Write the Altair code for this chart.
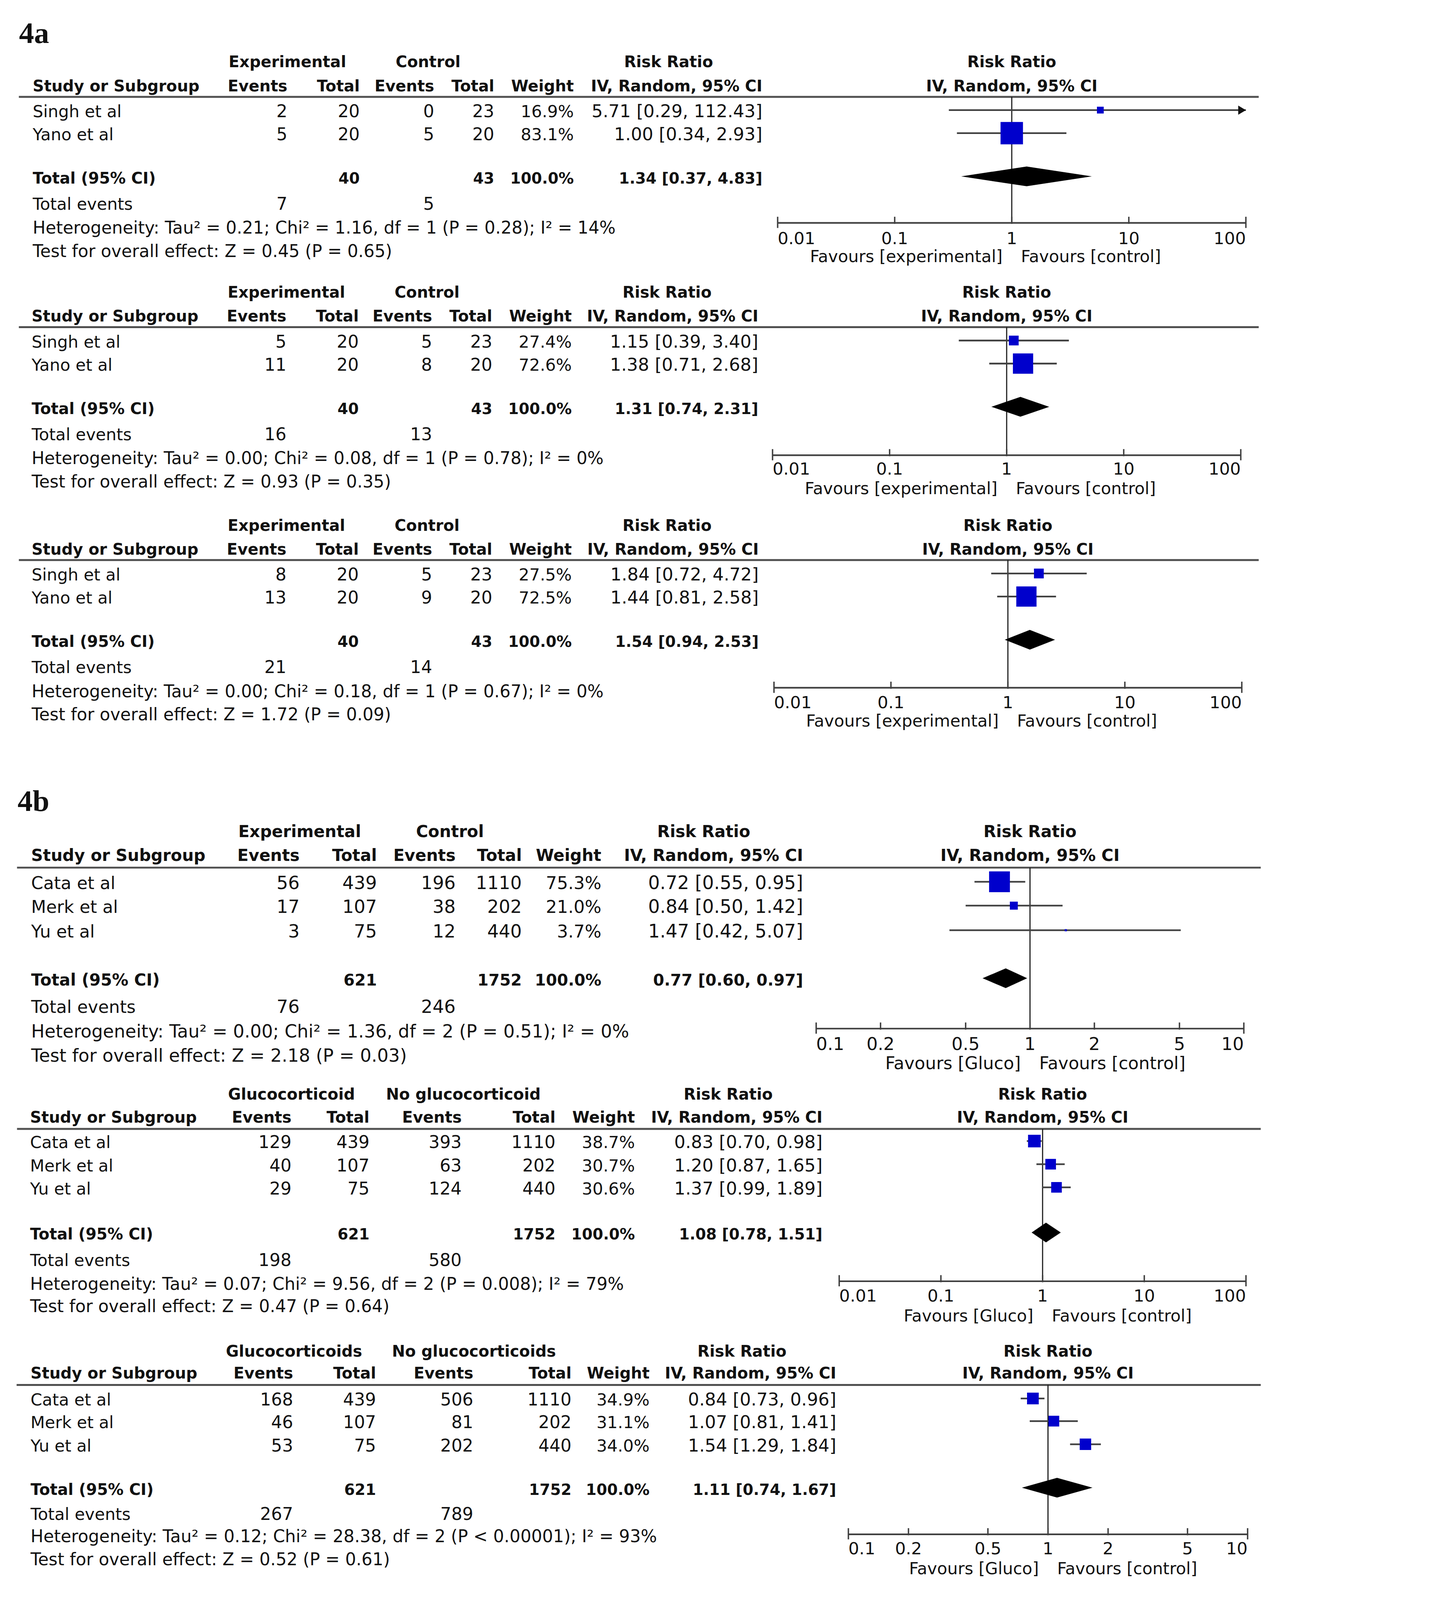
import altair as alt
import pandas as pd

# ------------------------------------------------------------------ data
# 4a, panel 1
A1_STUDY = ["Singh et al", "Yano et al"]
A1_EXP_EVENTS = [2, 5]
A1_EXP_TOTAL = [20, 20]
A1_CTL_EVENTS = [0, 5]
A1_CTL_TOTAL = [23, 20]
A1_WEIGHT = [16.9, 83.1]
A1_RR = [5.71, 1.00]
A1_LO = [0.29, 0.34]
A1_HI = [112.43, 2.93]
A1_POOLED = [1.34, 0.37, 4.83]
A1_TOTALS = [40, 43]
A1_TOTAL_EVENTS = [7, 5]
A1_HET = "Heterogeneity: Tau² = 0.21; Chi² = 1.16, df = 1 (P = 0.28); I² = 14%"
A1_TEST = "Test for overall effect: Z = 0.45 (P = 0.65)"

# 4a, panel 2
A2_STUDY = ["Singh et al", "Yano et al"]
A2_EXP_EVENTS = [5, 11]
A2_EXP_TOTAL = [20, 20]
A2_CTL_EVENTS = [5, 8]
A2_CTL_TOTAL = [23, 20]
A2_WEIGHT = [27.4, 72.6]
A2_RR = [1.15, 1.38]
A2_LO = [0.39, 0.71]
A2_HI = [3.40, 2.68]
A2_POOLED = [1.31, 0.74, 2.31]
A2_TOTALS = [40, 43]
A2_TOTAL_EVENTS = [16, 13]
A2_HET = "Heterogeneity: Tau² = 0.00; Chi² = 0.08, df = 1 (P = 0.78); I² = 0%"
A2_TEST = "Test for overall effect: Z = 0.93 (P = 0.35)"

# 4a, panel 3
A3_STUDY = ["Singh et al", "Yano et al"]
A3_EXP_EVENTS = [8, 13]
A3_EXP_TOTAL = [20, 20]
A3_CTL_EVENTS = [5, 9]
A3_CTL_TOTAL = [23, 20]
A3_WEIGHT = [27.5, 72.5]
A3_RR = [1.84, 1.44]
A3_LO = [0.72, 0.81]
A3_HI = [4.72, 2.58]
A3_POOLED = [1.54, 0.94, 2.53]
A3_TOTALS = [40, 43]
A3_TOTAL_EVENTS = [21, 14]
A3_HET = "Heterogeneity: Tau² = 0.00; Chi² = 0.18, df = 1 (P = 0.67); I² = 0%"
A3_TEST = "Test for overall effect: Z = 1.72 (P = 0.09)"

# 4b, panel 1
B1_STUDY = ["Cata et al", "Merk et al", "Yu et al"]
B1_EXP_EVENTS = [56, 17, 3]
B1_EXP_TOTAL = [439, 107, 75]
B1_CTL_EVENTS = [196, 38, 12]
B1_CTL_TOTAL = [1110, 202, 440]
B1_WEIGHT = [75.3, 21.0, 3.7]
B1_RR = [0.72, 0.84, 1.47]
B1_LO = [0.55, 0.50, 0.42]
B1_HI = [0.95, 1.42, 5.07]
B1_POOLED = [0.77, 0.60, 0.97]
B1_TOTALS = [621, 1752]
B1_TOTAL_EVENTS = [76, 246]
B1_HET = "Heterogeneity: Tau² = 0.00; Chi² = 1.36, df = 2 (P = 0.51); I² = 0%"
B1_TEST = "Test for overall effect: Z = 2.18 (P = 0.03)"

# 4b, panel 2
B2_STUDY = ["Cata et al", "Merk et al", "Yu et al"]
B2_EXP_EVENTS = [129, 40, 29]
B2_EXP_TOTAL = [439, 107, 75]
B2_CTL_EVENTS = [393, 63, 124]
B2_CTL_TOTAL = [1110, 202, 440]
B2_WEIGHT = [38.7, 30.7, 30.6]
B2_RR = [0.83, 1.20, 1.37]
B2_LO = [0.70, 0.87, 0.99]
B2_HI = [0.98, 1.65, 1.89]
B2_POOLED = [1.08, 0.78, 1.51]
B2_TOTALS = [621, 1752]
B2_TOTAL_EVENTS = [198, 580]
B2_HET = "Heterogeneity: Tau² = 0.07; Chi² = 9.56, df = 2 (P = 0.008); I² = 79%"
B2_TEST = "Test for overall effect: Z = 0.47 (P = 0.64)"

# 4b, panel 3
B3_STUDY = ["Cata et al", "Merk et al", "Yu et al"]
B3_EXP_EVENTS = [168, 46, 53]
B3_EXP_TOTAL = [439, 107, 75]
B3_CTL_EVENTS = [506, 81, 202]
B3_CTL_TOTAL = [1110, 202, 440]
B3_WEIGHT = [34.9, 31.1, 34.0]
B3_RR = [0.84, 1.07, 1.54]
B3_LO = [0.73, 0.81, 1.29]
B3_HI = [0.96, 1.41, 1.84]
B3_POOLED = [1.11, 0.74, 1.67]
B3_TOTALS = [621, 1752]
B3_TOTAL_EVENTS = [267, 789]
B3_HET = "Heterogeneity: Tau² = 0.12; Chi² = 28.38, df = 2 (P < 0.00001); I² = 93%"
B3_TEST = "Test for overall effect: Z = 0.52 (P = 0.61)"

GROUPS_A = ["Experimental", "Control"]
GROUPS_B2 = ["Glucocorticoid", "No glucocorticoid"]
GROUPS_B3 = ["Glucocorticoids", "No glucocorticoids"]
FAVOURS_A = ["Favours [experimental]", "Favours [control]"]
FAVOURS_B = ["Favours [Gluco]", "Favours [control]"]
TICKS_WIDE = [0.01, 0.1, 1, 10, 100]
TICK_LABELS_WIDE = ["0.01", "0.1", "1", "10", "100"]
TICKS_NARROW = [0.1, 0.2, 0.5, 1, 2, 5, 10]
TICK_LABELS_NARROW = ["0.1", "0.2", "0.5", "1", "2", "5", "10"]
COLUMN_HEADERS = ["Events", "Total", "Events", "Total", "Weight", "IV, Random, 95% CI"]
FIGURE_LABELS = ["4a", "4b"]

# ------------------------------------------------------------------ layout / style
# layout is expressed in reference units (reference drawn 1250 units wide, 1563 tall)
S = 2.61                               # units -> pixels (whole figure fits in the photographed area)
W = int(1250 * S) - 8
H = int(1563 * S) - 8
FONT = "DejaVu Sans"
SERIF = "Liberation Serif"
TXT = "#111111"
BLUE = "#0000CC"
LINE = "#404040"

# font sizes (reference units)
FS_WORD, FS_NUM, FS_CI, FS_PCT, FS_HET, FS_TICK = 16.3, 17.0, 17.3, 16.4, 16.8, 16.6
FSB_WORD, FSB_NUM = 15.4, 15.0

XT = alt.Scale(domain=[8 / S, (8 + W) / S], range=[0, W], nice=False, zero=False)
YT = alt.Scale(domain=[8 / S, (8 + H) / S], range=[0, H], nice=False, zero=False)
SIZE = alt.Scale(type="pow", exponent=1.5, domain=[0, 100],
                 range=[0, (22 * S) ** 2 * (100 / 83.1) ** 1.5])

LAYOUTS = [
    dict(left=32.1, cols=[282, 353, 426, 485, 563, 748], grp=[282, 420, 656],
         h1=66, h2=89.5, line=95, lx=(18.5, 1235), rows=[115, 137.6], tot=180, te=205.8,
         het=229.3, test=252.2, fx=(763, 1222.4), axis=218.6, lab=239.5, fav=257, k=1.0),
    dict(left=31, cols=[281, 352, 424, 483, 561, 744], grp=[281, 419, 654.5],
         h1=292, h2=315.5, line=320.9, lx=(18.5, 1235), rows=[341, 363.6], tot=406, te=431.8,
         het=455.3, test=478.2, fx=(758, 1217.4), axis=446.5, lab=465.7, fav=484.5, k=1.0),
    dict(left=31, cols=[281, 352, 424, 483, 561, 744.4], grp=[281, 419, 654.5],
         h1=520.5, h2=544, line=549.3, lx=(18.5, 1235), rows=[569.5, 592.1], tot=634.5, te=660.3,
         het=683.8, test=706.7, fx=(759.4, 1218.4), axis=674.6, lab=694.5, fav=712.5, k=1.0),
    dict(left=30.6, cols=[294, 369.8, 447, 512, 590, 788], grp=[294, 441.5, 690.5],
         h1=821, h2=844.5, line=851, lx=(16.7, 1237), rows=[871.9, 895.3, 919.4], tot=966.5, te=993.5,
         het=1017.5, test=1041.5, fx=(800.8, 1220.4), axis=1008.9, lab=1029.7, fav=1048.7, k=1.045),
    dict(left=29.5, cols=[286, 362.5, 453, 545, 623, 807], grp=[286, 454.6, 714.5],
         h1=1078.6, h2=1101.3, line=1107.3, lx=(16.7, 1237), rows=[1126.2, 1148.9, 1171.6], tot=1215.9,
         te=1241.9, het=1265.1, test=1286.9, fx=(823.4, 1222.5), axis=1256.7, lab=1276.8, fav=1296.1,
         k=1.0),
    dict(left=30, cols=[287.6, 369, 464.4, 560.7, 637.3, 820.5], grp=[288.5, 465, 728],
         h1=1330.6, h2=1352, line=1358.4, lx=(16.3, 1237), rows=[1378.7, 1400.9, 1423.6], tot=1466.2,
         te=1490.8, het=1512.8, test=1535.3, fx=(832.4, 1224.1), axis=1504.9, lab=1524.5, fav=1544.1,
         k=1.0),
]
LABEL_POS = [(18.7, 42), (17.2, 795.5)]


def panel_data(p):
    g = globals()
    return dict(study=g[p + "_STUDY"], ee=g[p + "_EXP_EVENTS"], et=g[p + "_EXP_TOTAL"],
                ce=g[p + "_CTL_EVENTS"], ct=g[p + "_CTL_TOTAL"], w=g[p + "_WEIGHT"],
                rr=g[p + "_RR"], lo=g[p + "_LO"], hi=g[p + "_HI"], pooled=g[p + "_POOLED"],
                tot=g[p + "_TOTALS"], tev=g[p + "_TOTAL_EVENTS"], het=g[p + "_HET"], test=g[p + "_TEST"])


PANELS = [
    (panel_data("A1"), GROUPS_A, FAVOURS_A, TICKS_WIDE, TICK_LABELS_WIDE),
    (panel_data("A2"), GROUPS_A, FAVOURS_A, TICKS_WIDE, TICK_LABELS_WIDE),
    (panel_data("A3"), GROUPS_A, FAVOURS_A, TICKS_WIDE, TICK_LABELS_WIDE),
    (panel_data("B1"), GROUPS_A, FAVOURS_B, TICKS_NARROW, TICK_LABELS_NARROW),
    (panel_data("B2"), GROUPS_B2, FAVOURS_B, TICKS_WIDE, TICK_LABELS_WIDE),
    (panel_data("B3"), GROUPS_B3, FAVOURS_B, TICKS_NARROW, TICK_LABELS_NARROW),
]


def ci_text(rr, lo, hi):
    return f"{rr:.2f} [{lo:.2f}, {hi:.2f}]"


def text_layer(rows, align, bold, fs, xscale=XT, font=FONT, dx=0):
    df = pd.DataFrame(rows, columns=["x", "y", "t"])
    return alt.Chart(df).mark_text(
        align=align, baseline="alphabetic", font=font, fontSize=fs * S,
        fontWeight="bold" if bold else "normal", color=TXT, dx=dx * S
    ).encode(
        x=alt.X("x:Q", scale=xscale, axis=None),
        y=alt.Y("y:Q", scale=YT, axis=None),
        text=alt.Text("t:N"),
    )


def rule_layer(df, xscale, color, width, horizontal=True):
    enc = dict(x=alt.X("x:Q", scale=xscale, axis=None), y=alt.Y("y:Q", scale=YT, axis=None))
    if horizontal:
        enc["x2"] = alt.X2("x2:Q")
    else:
        enc["y2"] = alt.Y2("y2:Q")
    return alt.Chart(pd.DataFrame(df)).mark_rule(color=color, strokeWidth=width * S).encode(**enc)


layers = []
for (lab, (lx, ly)) in zip(FIGURE_LABELS, LABEL_POS):
    layers.append(text_layer([(lx, ly, lab)], "left", True, 29.5, font=SERIF))

for (d, groups, favours, ticks, tick_labels), L in zip(PANELS, LAYOUTS):
    k, c = L["k"], L["cols"]
    rows_y = L["rows"]
    # ---- table text
    layers.append(text_layer([(L["grp"][0], L["h1"], groups[0]), (L["grp"][1], L["h1"], groups[1]),
                              (L["grp"][2], L["h1"], "Risk Ratio")], "center", True, FSB_WORD * k))
    layers.append(text_layer([(cx, L["h2"], h) for cx, h in zip(c, COLUMN_HEADERS)], "right", True,
                             FSB_WORD * k))
    layers.append(text_layer([(L["left"], L["h2"], "Study or Subgroup"),
                              (L["left"], L["tot"], "Total (95% CI)")], "left", True, FSB_WORD * k))
    words = [(L["left"], y, s) for y, s in zip(rows_y, d["study"])] + [(L["left"], L["te"], "Total events")]
    layers.append(text_layer(words, "left", False, FS_WORD * k))
    layers.append(text_layer([(L["left"], L["het"], d["het"]), (L["left"], L["test"], d["test"])],
                             "left", False, FS_HET * k))
    counts = []
    for i, y in enumerate(rows_y):
        counts += [(c[0], y, str(d["ee"][i])), (c[1], y, str(d["et"][i])),
                   (c[2], y, str(d["ce"][i])), (c[3], y, str(d["ct"][i]))]
    counts += [(c[0], L["te"], str(d["tev"][0])), (c[2], L["te"], str(d["tev"][1]))]
    layers.append(text_layer(counts, "right", False, FS_NUM * k))
    layers.append(text_layer([(c[4], y, f"{w:.1f}%") for y, w in zip(rows_y, d["w"])], "right", False,
                             FS_PCT * k))
    layers.append(text_layer([(c[5], y, ci_text(d["rr"][i], d["lo"][i], d["hi"][i]))
                              for i, y in enumerate(rows_y)], "right", False, FS_CI * k))
    layers.append(text_layer([(c[1], L["tot"], str(d["tot"][0])), (c[3], L["tot"], str(d["tot"][1])),
                              (c[4], L["tot"], f"{sum(d['w']):.1f}%"),
                              (c[5], L["tot"], ci_text(*d["pooled"]))], "right", True, FSB_NUM * k))
    # ---- header rule
    layers.append(rule_layer({"x": [L["lx"][0]], "x2": [L["lx"][1]], "y": [L["line"]]}, XT, "#505050", 1.9))

    # ---- forest plot
    dom = [ticks[0], ticks[-1]]
    FX = alt.Scale(type="log", domain=dom, range=[L["fx"][0] * S - 8, L["fx"][1] * S - 8],
                   nice=False, zero=False)
    layers.append(text_layer([(1, L["h1"], "Risk Ratio"), (1, L["h2"], "IV, Random, 95% CI")],
                             "center", True, FSB_WORD * k, xscale=FX))
    # line of no effect
    layers.append(rule_layer({"x": [1], "y": [L["line"]], "y2": [L["axis"]]}, FX, "#1a1a1a", 1.1,
                             horizontal=False))
    # axis
    layers.append(rule_layer({"x": [dom[0]], "x2": [dom[1]], "y": [L["axis"]]}, FX, LINE, 1.6))
    tick_df = {"x": ticks, "y": [L["axis"] - 6] * len(ticks),
               "y2": [L["axis"] + (5 if j in (0, len(ticks) - 1) else 1) for j in range(len(ticks))]}
    layers.append(rule_layer(tick_df, FX, LINE, 1.4, horizontal=False))
    layers.append(text_layer([(ticks[0], L["lab"], tick_labels[0])], "left", False, FS_TICK * k, xscale=FX))
    layers.append(text_layer([(t, L["lab"], s) for t, s in zip(ticks[1:-1], tick_labels[1:-1])],
                             "center", False, FS_TICK * k, xscale=FX))
    layers.append(text_layer([(ticks[-1], L["lab"], tick_labels[-1])], "right", False, FS_TICK * k, xscale=FX))
    layers.append(text_layer([(1, L["fav"], favours[0])], "right", False, FS_WORD * k, xscale=FX, dx=-9))
    layers.append(text_layer([(1, L["fav"], favours[1])], "left", False, FS_WORD * k, xscale=FX, dx=9))

    # confidence intervals
    mid = [y - 7 for y in rows_y]
    ci_df = {"x": [max(v, dom[0]) for v in d["lo"]], "x2": [min(v, dom[1]) for v in d["hi"]], "y": mid}
    layers.append(rule_layer(ci_df, FX, LINE, 1.65))
    clipped = [(dom[1], m) for v, m in zip(d["hi"], mid) if v > dom[1]]
    if clipped:
        layers.append(alt.Chart(pd.DataFrame(clipped, columns=["x", "y"])).mark_point(
            shape="M-1,-0.6L0,0L-1,0.6Z", filled=True, opacity=1, color="#111111", size=(15 * S) ** 2
        ).encode(x=alt.X("x:Q", scale=FX, axis=None), y=alt.Y("y:Q", scale=YT, axis=None)))
    # study boxes
    sq = pd.DataFrame({"x": d["rr"], "y": mid, "w": d["w"]})
    layers.append(alt.Chart(sq).mark_square(filled=True, color=BLUE, opacity=1).encode(
        x=alt.X("x:Q", scale=FX, axis=None), y=alt.Y("y:Q", scale=YT, axis=None),
        size=alt.Size("w:Q", scale=SIZE, legend=None)))
    # pooled diamond
    pr, plo, phi = d["pooled"]
    cy, hh = L["tot"] - 7, 9.7
    dia = pd.DataFrame({"x": [plo, pr, phi], "y": [cy, cy - hh, cy], "y2": [cy, cy + hh, cy]})
    layers.append(alt.Chart(dia).mark_area(color="black", orient="vertical", interpolate="linear").encode(
        x=alt.X("x:Q", scale=FX, axis=None), y=alt.Y("y:Q", scale=YT, axis=None), y2=alt.Y2("y2:Q")))

chart = alt.layer(*layers).resolve_scale(x="independent").properties(
    width=W, height=H, background="white", padding=0,
    autosize=alt.AutoSizeParams(type="none"),
).configure_view(stroke=None)

chart.save("out.html", embed_options={"renderer": "svg", "actions": False})
